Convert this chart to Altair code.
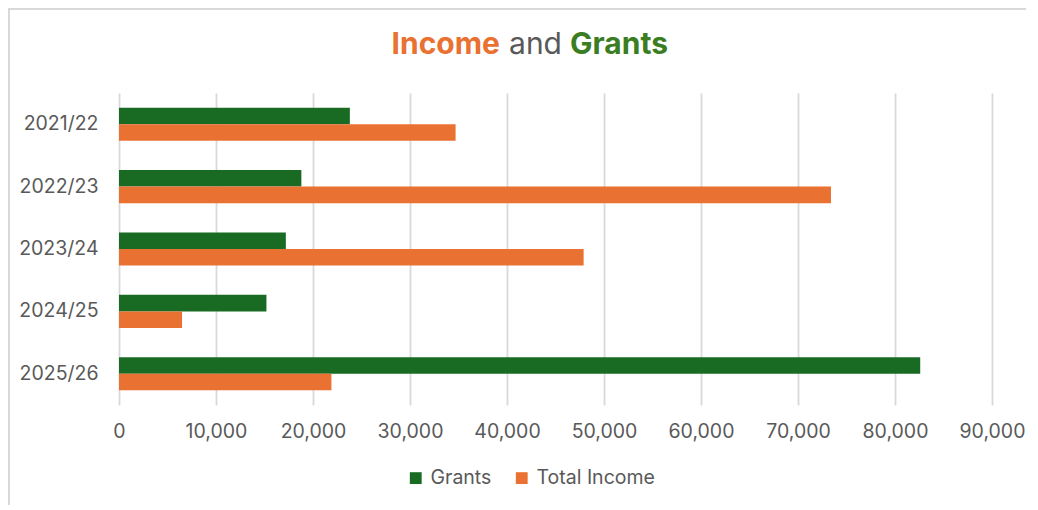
import altair as alt
import pandas as pd

years = ["2021/22", "2022/23", "2023/24", "2024/25", "2025/26"]
grants = [23800, 18800, 17200, 15200, 82600]
total_income = [34700, 73400, 47900, 6500, 21900]
series = ["Grants", "Total Income"]
colors = ["#196B24", "#E97132"]
x_ticks = [0, 10000, 20000, 30000, 40000, 50000, 60000, 70000, 80000, 90000]

rows = []
for i, y in enumerate(years):
    rows.append({"year": y, "series": series[0], "value": grants[i]})
    rows.append({"year": y, "series": series[1], "value": total_income[i]})
df = pd.DataFrame(rows)

FONT = "Inter"
W, H = 873, 312

bars = alt.Chart(df).mark_bar().encode(
    y=alt.Y("year:N", sort=years, title=None,
            scale=alt.Scale(paddingInner=0.47, paddingOuter=0.235),
            axis=alt.Axis(ticks=False, domain=False, labelPadding=21, labelFontSize=19.5,
                          labelColor="#595959", labelFont=FONT, grid=False)),
    yOffset=alt.YOffset("series:N", sort=series, scale=alt.Scale(paddingInner=0, paddingOuter=0)),
    x=alt.X("value:Q", title=None, scale=alt.Scale(domain=[0, 90000], nice=False),
            axis=alt.Axis(values=x_ticks, format=",.0f", ticks=False, domain=False,
                          labelFlush=False, labelOverlap=False,
                          labelPadding=17, labelFontSize=19.5, labelColor="#595959",
                          labelFont=FONT, gridColor="#D9D9D9", gridWidth=1.8)),
    color=alt.Color("series:N", sort=series,
                    scale=alt.Scale(domain=series, range=colors),
                    legend=alt.Legend(title=None, orient="none", direction="horizontal",
                                      legendX=287, legendY=375, symbolType="square",
                                      symbolSize=140, symbolStrokeWidth=0,
                                      labelFontSize=19.5, labelColor="#595959",
                                      labelFont=FONT, columnPadding=20, labelOffset=5)),
)

t1 = alt.Chart(pd.DataFrame({"t": ["Income"]})).mark_text(
    align="right", baseline="alphabetic", fontSize=30, fontWeight="bold",
    font=FONT, color="#E97132").encode(text="t:N", x=alt.value(381), y=alt.value(-39))
t2 = alt.Chart(pd.DataFrame({"t": ["and"]})).mark_text(
    align="center", baseline="alphabetic", fontSize=30,
    font=FONT, color="#595959").encode(text="t:N", x=alt.value(416.5), y=alt.value(-39))
t3 = alt.Chart(pd.DataFrame({"t": ["Grants"]})).mark_text(
    align="left", baseline="alphabetic", fontSize=30, fontWeight="bold",
    font=FONT, color="#3B7D23").encode(text="t:N", x=alt.value(451), y=alt.value(-39))

border_top = alt.Chart(pd.DataFrame({"a": [0]})).mark_rule(color="#D9D9D9", strokeWidth=2).encode(
    x=alt.value(-111), x2=alt.value(920), y=alt.value(-84))
border_left = alt.Chart(pd.DataFrame({"a": [0]})).mark_rule(color="#D9D9D9", strokeWidth=2).encode(
    x=alt.value(-110), y=alt.value(-85), y2=alt.value(420))

chart = alt.layer(bars, t1, t2, t3, border_top, border_left).properties(
    width=W, height=H,
    autosize=alt.AutoSizeParams(type="none"),
    padding={"left": 111, "top": 85, "right": 34, "bottom": 100},
).configure(background="white").configure_view(stroke=None)

chart.save("out.html", embed_options={"renderer": "svg", "actions": False})
